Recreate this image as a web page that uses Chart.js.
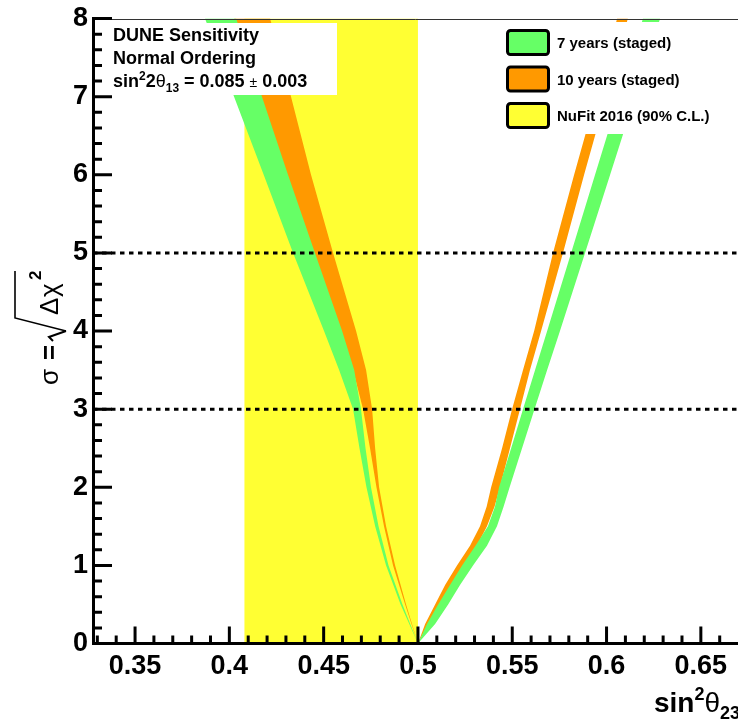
<!DOCTYPE html>
<html>
<head>
<meta charset="utf-8">
<script src="https://cdn.jsdelivr.net/npm/chart.js@4.4.1/dist/chart.umd.min.js"></script>
<style>
  html, body { margin: 0; padding: 0; background: #fff; overflow: hidden; }
  canvas { display: block; }
</style>
</head>
<body>
<canvas id="myChart" width="738" height="723"></canvas>
<script>
const sigmaLeft = [8, 7, 6, 5, 4, 3.5, 3, 2.5, 2, 1.5, 1, 0.5, 0];
const green7LeftLo = [0.3871, 0.4025, 0.4182, 0.4338, 0.4502, 0.4582, 0.4656, 0.4690, 0.4727, 0.4773, 0.4831, 0.4908, 0.5];
const green7LeftHi = [0.4036, 0.4173, 0.4311, 0.4454, 0.4598, 0.4662, 0.4698, 0.4722, 0.4751, 0.4791, 0.4844, 0.4918, 0.5];
const orange10LeftLo = [0.4025, 0.4163, 0.4301, 0.4444, 0.4587, 0.4656, 0.4709, 0.4746, 0.4780, 0.4820, 0.4868, 0.4932, 0.5];
const orange10LeftHi = [0.4216, 0.4327, 0.4433, 0.4550, 0.4672, 0.4725, 0.4757, 0.4773, 0.4794, 0.4831, 0.4879, 0.4937, 0.5];

const sigmaRight = [0, 0.25, 0.5, 0.75, 1, 1.25, 1.5, 1.75, 2, 2.5, 3, 3.5, 4, 5, 6, 7, 8];
const orange10RightLo = [0.5, 0.5038, 0.5091, 0.5144, 0.5207, 0.5276, 0.5329, 0.5364, 0.5388, 0.5446, 0.5499, 0.5557, 0.5616, 0.5716, 0.5828, 0.5944, 0.6056];
const orange10RightHi = [0.5, 0.5054, 0.5113, 0.5176, 0.5239, 0.5313, 0.5366, 0.5406, 0.5435, 0.5488, 0.5541, 0.5594, 0.5653, 0.5769, 0.5881, 0.5997, 0.6113];
const green7RightLo = [0.5, 0.5048, 0.5107, 0.5170, 0.5234, 0.5305, 0.5371, 0.5408, 0.5430, 0.5494, 0.5557, 0.5621, 0.5685, 0.5812, 0.5939, 0.6066, 0.6193];
const green7RightHi = [0.5, 0.5091, 0.5160, 0.5223, 0.5292, 0.5366, 0.5419, 0.5454, 0.5486, 0.5552, 0.5618, 0.5685, 0.5753, 0.5886, 0.6019, 0.6151, 0.6284];

const nufitRange = [0.408, 0.5];
const sigmaLevels = [3, 5];

const xTicks = [0.35, 0.4, 0.45, 0.5, 0.55, 0.6, 0.65];
const xTickLabels = ["0.35", "0.4", "0.45", "0.5", "0.55", "0.6", "0.65"];
const yTicks = [0, 1, 2, 3, 4, 5, 6, 7, 8];
const yTickLabels = ["0", "1", "2", "3", "4", "5", "6", "7", "8"];

const legendLabels = ["7 years (staged)", "10 years (staged)", "NuFit 2016 (90% C.L.)"];

const GREEN = "#66ff66";
const ORANGE = "#ff9900";
const YELLOW = "#ffff33";
const FONT = "'Liberation Sans', Arial, Helvetica, sans-serif";

const xMin = 0.3277, xMax = 0.6697;

function band(sig, lo, hi) {
    const pts = lo.map((x, i) => ({x: x, y: sig[i]}));
    for (let i = hi.length - 1; i >= 0; i--) pts.push({x: hi[i], y: sig[i]});
    return pts;
}

function area(label, pts, color, order) {
    return {
        label: label, data: pts, fill: 'shape', backgroundColor: color,
        borderColor: 'rgba(0,0,0,0)', borderWidth: 0, pointRadius: 0, order: order
    };
}

function dashed(level) {
    return {
        label: 'sigma ' + level, data: [{x: xMin, y: level}, {x: xMax, y: level}],
        fill: false, borderColor: '#000', borderWidth: 3, borderDash: [4.5, 4.5],
        pointRadius: 0, order: 0
    };
}

const nufitPts = [
    {x: nufitRange[0], y: 0}, {x: nufitRange[1], y: 0},
    {x: nufitRange[1], y: 8}, {x: nufitRange[0], y: 8}
];

// draw a row of text pieces with their own size / shift
function drawRuns(ctx, x, y, runs) {
    runs.forEach(r => {
        ctx.font = (r.weight || 'bold') + ' ' + r.size + 'px ' + FONT;
        ctx.fillText(r.text, x, y + (r.dy || 0));
        x += ctx.measureText(r.text).width + (r.gap || 0);
    });
    return x;
}

const rootDecor = {
    id: 'rootDecor',
    afterDatasetsDraw(chart) {
        const ctx = chart.ctx;
        ctx.save();
        ctx.fillStyle = '#fff';
        ctx.fillRect(96, 23, 241, 72);
        ctx.fillRect(497, 22, 260, 112);

        ctx.fillStyle = '#000';
        ctx.textBaseline = 'alphabetic';
        ctx.textAlign = 'left';
        ctx.font = 'bold 18px ' + FONT;
        ctx.fillText('DUNE Sensitivity', 113, 41);
        ctx.fillText('Normal Ordering', 113, 64);
        drawRuns(ctx, 113, 87, [
            {text: 'sin', size: 18},
            {text: '2', size: 12, dy: -7},
            {text: '2', size: 18},
            {text: 'θ', size: 18, weight: 'normal'},
            {text: '13', size: 12, dy: 5},
            {text: ' = 0.085 ', size: 18},
            {text: '±', size: 14, weight: 'normal'},
            {text: ' 0.003', size: 18}
        ]);

        const swatches = [GREEN, ORANGE, YELLOW];
        swatches.forEach((c, i) => {
            const cy = 42.5 + i * 36.5;
            ctx.beginPath();
            ctx.roundRect(507.5, cy - 12, 41, 24, 3);
            ctx.fillStyle = c;
            ctx.fill();
            ctx.lineWidth = 3;
            ctx.strokeStyle = '#000';
            ctx.stroke();
            ctx.fillStyle = '#000';
            ctx.font = 'bold 15px ' + FONT;
            ctx.fillText(legendLabels[i], 557, cy + 5.5);
        });
        ctx.restore();
    },
    afterDraw(chart) {
        const ctx = chart.ctx;
        const {left, right, top, bottom} = chart.chartArea;
        const xs = chart.scales.x, ys = chart.scales.y;
        ctx.save();

        // frame top
        ctx.strokeStyle = '#333';
        ctx.lineWidth = 1;
        ctx.beginPath();
        ctx.moveTo(left, Math.round(top) + 0.5);
        ctx.lineTo(right, Math.round(top) + 0.5);
        ctx.stroke();

        // ticks drawn inside the frame, ROOT style
        ctx.strokeStyle = '#000';
        ctx.lineWidth = 3;
        ctx.beginPath();
        for (let k = 33; k <= 67; k++) {
            const px = xs.getPixelForValue(k / 100);
            if (px < left + 2 || px > right) continue;
            const len = (k % 5 === 0) ? 17 : 8;
            ctx.moveTo(px, bottom);
            ctx.lineTo(px, bottom - len);
        }
        for (let k = 0; k <= 40; k++) {
            const py = ys.getPixelForValue(k / 5);
            const len = (k % 5 === 0) ? 19 : 9;
            ctx.moveTo(left, py);
            ctx.lineTo(left + len, py);
        }
        ctx.stroke();

        // x title
        ctx.fillStyle = '#000';
        ctx.textAlign = 'left';
        ctx.textBaseline = 'alphabetic';
        drawRuns(ctx, 654, 712, [
            {text: 'sin', size: 28},
            {text: '2', size: 18, dy: -12},
            {text: 'θ', size: 28, weight: 'normal'},
            {text: '23', size: 18, dy: 7}
        ]);

        // y title: sigma = sqrt(delta chi^2)
        ctx.translate(58, 385);
        ctx.rotate(-Math.PI / 2);
        ctx.font = 'normal 26px ' + FONT;
        ctx.fillText('σ', 0, 0);
        ctx.font = 'bold 26px ' + FONT;
        ctx.fillText('=', 25, 0);
        ctx.lineJoin = 'miter';
        ctx.lineWidth = 2;
        ctx.beginPath();
        ctx.moveTo(44, -5);
        ctx.lineTo(48, -9);
        ctx.lineTo(54, 8);
        ctx.stroke();
        ctx.lineWidth = 1.6;
        ctx.beginPath();
        ctx.moveTo(54, 8);
        ctx.lineTo(67, -43);
        ctx.lineTo(114, -43);
        ctx.stroke();
        ctx.font = 'normal 26px ' + FONT;
        ctx.fillText('Δ', 70, 0);
        ctx.fillText('χ', 88, 0);
        ctx.font = 'bold 17px ' + FONT;
        ctx.fillText('2', 105, -17);
        ctx.restore();
    }
};

const tickFont = {family: FONT, size: 27, weight: 'bold', lineHeight: 1};

const myChart = new Chart(document.getElementById("myChart"), {
    type: 'line',
    data: {
        datasets: [
            dashed(sigmaLevels[0]),
            dashed(sigmaLevels[1]),
            area(legendLabels[0], band(sigmaLeft, green7LeftLo, green7LeftHi), GREEN, 2),
            area(legendLabels[0], band(sigmaRight, green7RightLo, green7RightHi), GREEN, 2),
            area(legendLabels[1], band(sigmaLeft, orange10LeftLo, orange10LeftHi), ORANGE, 3),
            area(legendLabels[1], band(sigmaRight, orange10RightLo, orange10RightHi), ORANGE, 3),
            area(legendLabels[2], nufitPts, YELLOW, 4)
        ]
    },
    options: {
        responsive: false,
        animation: false,
        events: [],
        layout: {padding: {top: 15.5, left: 0, right: 0, bottom: 0}},
        plugins: {legend: {display: false}, tooltip: {enabled: false}},
        scales: {
            x: {
                type: 'linear', min: xMin, max: xMax, z: 1,
                afterBuildTicks: s => { s.ticks = xTicks.map(v => ({value: v})); },
                afterFit: s => { s.height = 79.5; },
                ticks: {
                    callback: (v, i) => xTickLabels[i],
                    font: tickFont, color: '#000', padding: 10,
                    maxRotation: 0, autoSkip: false
                },
                grid: {drawOnChartArea: false, drawTicks: false},
                border: {display: true, color: '#000', width: 3, z: 1}
            },
            y: {
                type: 'linear', min: 0, max: 8, z: 1,
                afterBuildTicks: s => { s.ticks = yTicks.map(v => ({value: v})); },
                afterFit: s => { s.width = 93; },
                ticks: {
                    callback: (v, i) => yTickLabels[i],
                    font: tickFont, color: '#000', padding: 5, autoSkip: false
                },
                grid: {drawOnChartArea: false, drawTicks: false},
                border: {display: true, color: '#000', width: 3, z: 1}
            }
        }
    },
    plugins: [rootDecor]
});
</script>
</body>
</html>
